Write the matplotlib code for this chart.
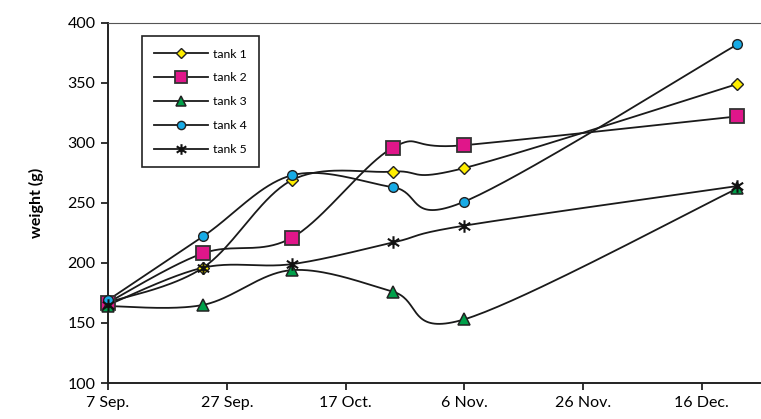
import datetime as dt

import matplotlib
matplotlib.use('Agg')
import matplotlib.pyplot as plt
import matplotlib.dates as mdates
import numpy as np
from matplotlib.lines import Line2D
from matplotlib.path import Path


# sampling dates (year is not shown on the chart)
dates = [dt.date(2005, 9, 7), dt.date(2005, 9, 23), dt.date(2005, 10, 8),
         dt.date(2005, 10, 25), dt.date(2005, 11, 6), dt.date(2005, 12, 22)]

tank1 = [167, 196, 269, 276, 279, 349]
tank2 = [167, 208, 221, 296, 298, 322]
tank3 = [164, 165, 194, 176, 153, 262]
tank4 = [169, 222, 273, 263, 251, 382]
tank5 = [165, 196, 199, 217, 231, 264]

labels = ['tank 1', 'tank 2', 'tank 3', 'tank 4', 'tank 5']

tick_dates = [dt.date(2005, 9, 7), dt.date(2005, 9, 27), dt.date(2005, 10, 17),
              dt.date(2005, 11, 6), dt.date(2005, 11, 26), dt.date(2005, 12, 16)]
tick_labels = ['7 Sep.', '27 Sep.', '17 Oct.', '6 Nov.', '26 Nov.', '16 Dec.']

# excel style asterisk marker
STAR = Path([(0, -1), (0, 1), (-0.9, -0.6), (0.9, 0.6), (-0.9, 0.6), (0.9, -0.6)],
            [Path.MOVETO, Path.LINETO, Path.MOVETO, Path.LINETO, Path.MOVETO, Path.LINETO])

styles = [
    dict(marker='D', markersize=6.5, markerfacecolor='#FFEE00', markeredgecolor='#222222', markeredgewidth=1.0),
    dict(marker='s', markersize=9.5, markerfacecolor='#E0168A', markeredgecolor='#333333', markeredgewidth=1.3),
    dict(marker='^', markersize=8.5, markerfacecolor='#00A04A', markeredgecolor='#222222', markeredgewidth=1.1),
    dict(marker='o', markersize=7, markerfacecolor='#17ABE6', markeredgecolor='#222222', markeredgewidth=1.0),
    dict(marker=STAR, markersize=9, markerfacecolor='none', markeredgecolor='#111111', markeredgewidth=1.5),
]

plt.rcParams['font.family'] = ['Lato', 'DejaVu Sans']


def smooth(ax, xs, ys, n=40):
    # excel-like smoothed line, built in screen space through the data points
    P = ax.transData.transform(np.column_stack([xs, ys]))
    P = np.vstack([P[0], P, P[-1]])
    out = []
    for i in range(1, len(P) - 2):
        p0, p1, p2, p3 = P[i - 1], P[i], P[i + 1], P[i + 2]
        c1 = p1 + (p2 - p0) / 6.0
        c2 = p2 - (p3 - p1) / 6.0
        t = np.linspace(0, 1, n)[:, None]
        seg = ((1 - t) ** 3) * p1 + 3 * ((1 - t) ** 2) * t * c1 + 3 * (1 - t) * t ** 2 * c2 + t ** 3 * p2
        out.append(seg if i == 1 else seg[1:])
    return ax.transData.inverted().transform(np.vstack(out))


fig = plt.figure(figsize=(7.61, 4.19), dpi=100)
ax = fig.add_axes([108 / 761, 1 - 383 / 419, 652 / 761, 360.3 / 419])

x = mdates.date2num(dates)
x0 = mdates.date2num(dt.date(2005, 9, 7))
ax.set_xlim(x0, x0 + 109.8)
ax.set_ylim(100, 400)

handles = []
for ys, st, lab in zip([tank1, tank2, tank3, tank4, tank5], styles, labels):
    curve = smooth(ax, x, ys)
    ax.plot(curve[:, 0], curve[:, 1], color='#1a1a1a', lw=1.3, zorder=2, solid_capstyle='round')
    ax.plot(x, ys, linestyle='none', zorder=3, clip_on=False, **st)
    handles.append(Line2D([], [], color='#1a1a1a', lw=1.3, label=lab, **st))

ax.set_xticks(mdates.date2num(tick_dates))
ax.set_xticklabels(tick_labels)
ax.set_yticks([100, 150, 200, 250, 300, 350, 400])
ax.tick_params(axis='both', labelsize=11.5, length=5, width=1.3, color='#222222', direction='out')
ax.tick_params(axis='x', pad=4)
ax.tick_params(axis='y', pad=4)

for side in ['left', 'bottom']:
    ax.spines[side].set_linewidth(1.4)
    ax.spines[side].set_color('#222222')
ax.spines['right'].set_visible(False)
ax.spines['top'].set_linewidth(0.8)
ax.spines['top'].set_color('#555555')

ax.set_ylabel('weight (g)', fontsize=11.5, fontweight='bold', labelpad=17)

leg = ax.legend(handles=handles, loc='upper left', bbox_to_anchor=(0.052, 0.962),
                borderaxespad=0, fontsize=8.8, handlelength=4.4, labelspacing=1.05,
                handletextpad=0.4, borderpad=1.0, fancybox=False, framealpha=1,
                markerscale=0.85)
leg.get_frame().set_edgecolor('#222222')
leg.get_frame().set_linewidth(1.2)

fig.savefig('out.png', dpi=100)
